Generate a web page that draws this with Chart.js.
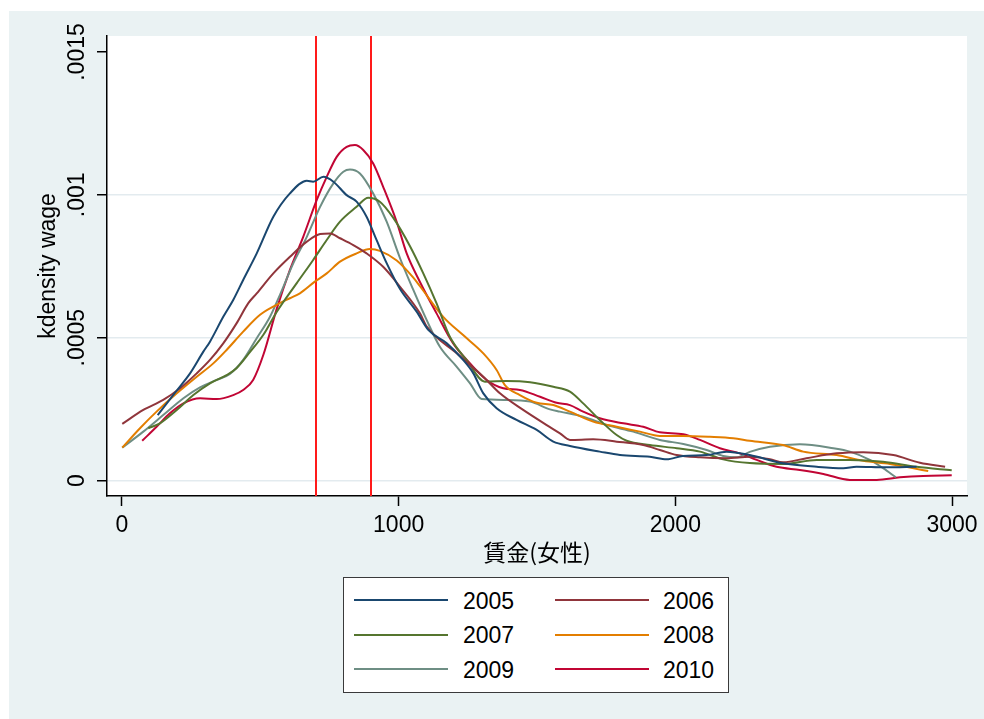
<!DOCTYPE html>
<html><head><meta charset="utf-8">
<script src="https://cdn.jsdelivr.net/npm/chart.js@4.4.1/dist/chart.umd.min.js"></script>
<style>
html,body{margin:0;padding:0;background:#fff;width:984px;height:719px;overflow:hidden;}
#bg{position:absolute;left:9px;top:11px;width:975px;height:708px;background:rgb(234,242,243);}
#c{position:absolute;left:0;top:0;}
#legend{position:absolute;left:343px;top:577px;width:386px;height:116px;box-sizing:border-box;border:1.5px solid #3a3a3a;background:#fff;font-family:"Liberation Sans",Arial,sans-serif;font-size:23px;color:#000;}
.sw{position:absolute;height:2px;}
.lb{position:absolute;line-height:23px;white-space:nowrap;}
</style></head><body>
<div id="bg"></div>
<canvas id="c" width="984" height="719"></canvas>
<div id="legend"></div>
<script>
// ---- data ----
const years = ['2005','2006','2007','2008','2009','2010'];
const colors = ['#1a476f','#90353b','#55752f','#e37e00','#6e8e84','#c10534'];
const xTickValues = [0,1000,2000,3000];
const yTickValues = [0,0.0005,0.001,0.0015];
const yTickLabels = ['0','.0005','.001','.0015'];
const refLines = [700,900];

const wage2005 = [129,198,246,294,318,366,402,438,487,547,607,668,691,728,764,812,848,884,920,957,1005,1065,1107,1174,1233,1270,1306,1354,1426,1499,1559,1619,1727,1800,1908,1969,2027,2113,2185,2269,2389,2511,2607,2655,2760,2872];
const dens2005 = [2.29e-4,3.15e-4,3.75e-4,4.51e-4,4.86e-4,5.73e-4,6.32e-4,7.02e-4,7.95e-4,9.23e-4,10.05e-4,10.49e-4,10.46e-4,10.63e-4,10.46e-4,9.99e-4,9.76e-4,9.23e-4,8.42e-4,7.60e-4,6.70e-4,5.91e-4,5.27e-4,4.80e-4,4.22e-4,3.75e-4,3.05e-4,2.53e-4,2.12e-4,1.77e-4,1.36e-4,1.21e-4,1.01e-4,0.89e-4,0.83e-4,0.74e-4,0.86e-4,0.89e-4,1.01e-4,0.89e-4,0.60e-4,0.48e-4,0.43e-4,0.48e-4,0.46e-4,0.48e-4];

const wage2006 = [1,77,149,210,270,318,366,414,456,487,547,607,668,716,752,788,836,884,944,1005,1077,1101,1210,1306,1366,1450,1535,1583,1619,1703,1788,1884,1944,2005,2089,2185,2269,2342,2390,2474,2583,2679,2788,2884,2975];
const dens2006 = [1.98e-4,2.47e-4,2.82e-4,3.23e-4,3.75e-4,4.22e-4,4.80e-4,5.50e-4,6.20e-4,6.55e-4,7.25e-4,7.83e-4,8.36e-4,8.63e-4,8.65e-4,8.48e-4,8.24e-4,7.95e-4,7.48e-4,6.78e-4,5.85e-4,5.40e-4,4.45e-4,3.63e-4,3.05e-4,2.47e-4,1.94e-4,1.65e-4,1.42e-4,1.44e-4,1.36e-4,1.24e-4,1.07e-4,0.89e-4,0.81e-4,0.78e-4,0.83e-4,0.74e-4,0.64e-4,0.78e-4,0.95e-4,0.99e-4,0.89e-4,0.62e-4,0.48e-4];

const wage2007 = [95,137,198,258,318,378,414,463,511,559,631,691,740,788,848,890,932,980,1041,1089,1137,1185,1245,1312,1390,1475,1559,1619,1667,1727,1788,1824,1908,2005,2089,2173,2269,2390,2511,2631,2751,2872,2999];
const dens2007 = [1.83e-4,2.00e-4,2.47e-4,2.99e-4,3.40e-4,3.69e-4,3.93e-4,4.50e-4,5.10e-4,5.90e-4,6.90e-4,7.72e-4,8.42e-4,9.06e-4,9.58e-4,9.90e-4,9.76e-4,9.20e-4,8.20e-4,7.25e-4,6.20e-4,5.03e-4,4.22e-4,3.46e-4,3.48e-4,3.44e-4,3.28e-4,3.11e-4,2.70e-4,2.12e-4,1.59e-4,1.39e-4,1.24e-4,1.13e-4,1.01e-4,0.74e-4,0.61e-4,0.58e-4,0.72e-4,0.72e-4,0.66e-4,0.48e-4,0.36e-4];

const wage2008 = [1,65,125,198,270,330,378,438,499,559,607,643,697,740,788,848,896,932,993,1053,1077,1161,1233,1306,1354,1384,1438,1499,1559,1619,1703,1788,1872,1944,2029,2125,2209,2269,2389,2462,2583,2679,2776,2848,2914];
const dens2008 = [1.15e-4,1.83e-4,2.41e-4,3.05e-4,3.63e-4,4.10e-4,4.57e-4,5.21e-4,5.80e-4,6.15e-4,6.38e-4,6.55e-4,6.96e-4,7.25e-4,7.66e-4,7.95e-4,8.10e-4,8.04e-4,7.70e-4,7.10e-4,6.80e-4,5.73e-4,5.09e-4,4.45e-4,3.87e-4,3.34e-4,2.99e-4,2.72e-4,2.64e-4,2.41e-4,2.06e-4,1.88e-4,1.71e-4,1.56e-4,1.56e-4,1.53e-4,1.48e-4,1.39e-4,1.24e-4,1.01e-4,0.89e-4,0.69e-4,0.58e-4,0.45e-4,0.33e-4];

const wage2009 = [1,77,149,222,282,342,390,438,487,535,571,619,668,716,764,800,824,860,908,957,1005,1053,1101,1149,1210,1258,1300,1390,1475,1547,1583,1667,1752,1848,1944,2029,2113,2173,2221,2269,2342,2450,2571,2631,2703,2751,2797];
const dens2009 = [1.15e-4,1.71e-4,2.29e-4,2.88e-4,3.26e-4,3.52e-4,3.73e-4,4.22e-4,4.98e-4,5.73e-4,6.50e-4,7.60e-4,8.53e-4,9.58e-4,10.40e-4,10.81e-4,10.89e-4,10.75e-4,10.05e-4,9.05e-4,7.78e-4,6.67e-4,5.62e-4,4.68e-4,3.98e-4,3.40e-4,2.85e-4,2.82e-4,2.76e-4,2.49e-4,2.41e-4,2.23e-4,1.94e-4,1.71e-4,1.42e-4,1.28e-4,1.07e-4,0.86e-4,0.81e-4,1.00e-4,1.18e-4,1.27e-4,1.13e-4,1.01e-4,0.72e-4,0.43e-4,0.11e-4];

const wage2010 = [73,125,173,222,282,342,402,438,474,511,559,607,655,704,740,776,812,842,872,908,944,993,1029,1077,1137,1197,1258,1318,1378,1438,1511,1571,1619,1667,1727,1812,1884,1944,2029,2089,2161,2233,2294,2366,2450,2535,2631,2728,2812,2896,2999];
const dens2010 = [1.39e-4,1.88e-4,2.35e-4,2.70e-4,2.88e-4,2.85e-4,2.99e-4,3.17e-4,3.52e-4,4.40e-4,6.00e-4,7.37e-4,8.53e-4,9.82e-4,10.63e-4,11.33e-4,11.68e-4,11.74e-4,11.57e-4,11.10e-4,10.28e-4,9.05e-4,7.95e-4,6.95e-4,5.85e-4,4.80e-4,4.10e-4,3.52e-4,3.23e-4,3.17e-4,2.93e-4,2.72e-4,2.64e-4,2.41e-4,2.18e-4,2.00e-4,1.88e-4,1.69e-4,1.62e-4,1.42e-4,1.13e-4,0.95e-4,0.72e-4,0.48e-4,0.37e-4,0.23e-4,0.02e-4,0.02e-4,0.11e-4,0.16e-4,0.18e-4];

const wages = [wage2005,wage2006,wage2007,wage2008,wage2009,wage2010];
const dens  = [dens2005,dens2006,dens2007,dens2008,dens2009,dens2010];

const FONT = '"Liberation Sans", Arial, sans-serif';
const CJK = '"Noto Sans CJK JP", "Noto Sans CJK SC", sans-serif';

const datasets = years.map((y,k)=>({
  label: y,
  data: wages[k].map((w,i)=>({x:w, y:dens[k][i]})),
  borderColor: colors[k],
  backgroundColor: colors[k],
  borderWidth: 2,
  pointRadius: 0,
  fill: false,
  cubicInterpolationMode: 'monotone'
}));

const deco = {
  id: 'deco',
  beforeDraw(chart){
    const {ctx, chartArea:a} = chart;
    ctx.save();
    ctx.fillStyle = '#ffffff';
    ctx.fillRect(a.left, a.top, a.right-a.left, a.bottom-a.top);
    ctx.restore();
  },
  beforeDatasetsDraw(chart){
    const {ctx, chartArea:a, scales:{x}} = chart;
    ctx.save();
    ctx.strokeStyle = '#ff1a1a';
    ctx.lineWidth = 2;
    refLines.forEach(v=>{
      const px = Math.round(x.getPixelForValue(v));
      ctx.beginPath();
      ctx.moveTo(px, a.top);
      ctx.lineTo(px, a.bottom);
      ctx.stroke();
    });
    ctx.restore();
  },
  afterDraw(chart){
    const {ctx, scales:{y}} = chart;
    ctx.save();
    ctx.fillStyle = '#000';
    ctx.font = '23px ' + FONT;
    ctx.textAlign = 'center';
    ctx.textBaseline = 'middle';
    yTickValues.forEach((v,i)=>{
      const py = y.getPixelForValue(v);
      ctx.save();
      ctx.translate(78, py);
      ctx.rotate(-Math.PI/2);
      ctx.fillText(yTickLabels[i], 0, 0);
      ctx.restore();
    });
    ctx.restore();
  }
};

const chart = new Chart(document.getElementById('c'), {
  type: 'line',
  data: { datasets },
  plugins: [deco],
  options: {
    responsive: false,
    animation: false,
    devicePixelRatio: 1,
    layout: { padding: { left: 0, right: 17, top: 36, bottom: 143 } },
    plugins: { legend: { display: false }, tooltip: { enabled: false } },
    scales: {
      x: {
        type: 'linear', min: -54.2, max: 3054.2,
        afterBuildTicks: s => { s.ticks = xTickValues.map(v=>({value:v})); },
        afterFit: s => { s.height = 80; },
        grid: { drawOnChartArea: false, drawTicks: true, tickLength: 10, tickColor: '#000', tickWidth: 1.5 },
        border: { display: true, color: '#000', width: 1.5 },
        ticks: { color: '#000', font: { family: FONT, size: 23 }, padding: 6, maxRotation: 0, minRotation: 0, autoSkip: false, callback: v => String(v) },
        title: { display: true, text: '賃金(女性)', color: '#000', font: { family: CJK, size: 23 }, padding: { top: 0, bottom: 10 } }
      },
      y: {
        type: 'linear', min: -0.0000543, max: 0.001556,
        afterBuildTicks: s => { s.ticks = yTickValues.map(v=>({value:v})); },
        afterFit: s => { s.width = 107; },
        grid: {
          drawOnChartArea: true, drawTicks: true, tickLength: 10,
          color: c => (c.tick && c.tick.value > 0.0012) ? 'rgba(0,0,0,0)' : '#e3ebef',
          lineWidth: 1.5, tickColor: '#000', tickWidth: 1.5
        },
        border: { display: true, color: '#000', width: 1.5 },
        ticks: { display: false },
        title: { display: true, text: 'kdensity wage', color: '#000', font: { family: FONT, size: 23 }, padding: { top: 35, bottom: 0 } }
      }
    }
  }
});

// legend built from the chart's datasets
const leg = document.getElementById('legend');
const colLine = [10, 211], colText = [119, 319], rowLine = [21, 55.5, 90], rowText = [12, 46, 80.5];
chart.data.datasets.forEach((ds,i)=>{
  const c = i % 2, r = Math.floor(i/2);
  const sw = document.createElement('div');
  sw.className = 'sw';
  sw.style.left = colLine[c] + 'px';
  sw.style.top = rowLine[r] + 'px';
  sw.style.width = '94px';
  sw.style.background = ds.borderColor;
  leg.appendChild(sw);
  const lb = document.createElement('div');
  lb.className = 'lb';
  lb.style.left = colText[c] + 'px';
  lb.style.top = rowText[r] + 'px';
  lb.textContent = ds.label;
  leg.appendChild(lb);
});
</script>
</body></html>
